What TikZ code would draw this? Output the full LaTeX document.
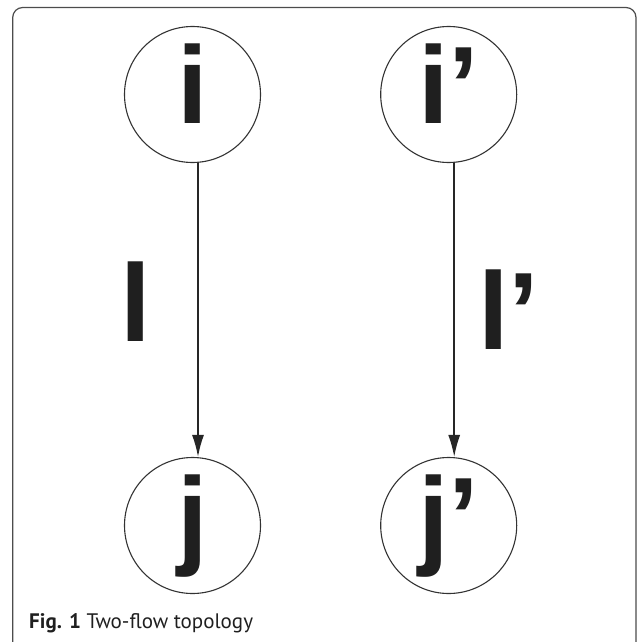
\documentclass[tikz,border=0pt]{standalone}
\usepackage{fontspec}
\setmainfont{Liberation Sans}
\newfontfamily\capfont{PT Sans}
\usetikzlibrary{positioning,arrows.meta}

\begin{document}
\begin{tikzpicture}[x=1pt, y=-1pt,
    host/.style={circle, draw=black!80, line width=1.1pt, minimum size=136pt, inner sep=0pt,
        font=\fontsize{110}{110}\selectfont\bfseries, text=black!88,
        text height=80pt, text depth=22pt},
    flow/.style={draw=black!85, line width=1.6pt, -{Latex[length=22pt,width=12pt]}},
    link/.style={font=\fontsize{110}{110}\selectfont\bfseries, text=black!88, inner sep=0pt}]
    \useasboundingbox (0,0) rectangle (637,642);

    % frame, open at the bottom
    \draw[black!70, line width=1.2pt, rounded corners=10pt]
        (12.7,660) -- (12.7,7.5) -- (636,7.5) -- (636,660);

    % First flow
    \node[host] (i) at (192.5,94.5) {i};
    \node[host] (j) at (192.5,525.5) {j};

    % Second flow
    \node[host] (i2) at (448.7,94.5) {i’};
    \node[host] (j2) at (448.7,525.5) {j’};

    % Links
    \draw[flow] ([xshift=5.5pt]i.south) -- ([xshift=5.5pt]j.north)
        node[link, pos=0.47, left=46pt] (l) {l};
    \draw[flow] ([xshift=5.5pt]i2.south) -- ([xshift=5.5pt]j2.north)
        node[link, pos=0.5, right=23pt] (l2) {l’};

    % Caption
    \node[anchor=base west, inner sep=0pt, font=\capfont\fontsize{21}{21}\selectfont, text=black!88]
        (cap) at (29,628) {\textbf{Fig. 1} Two-flow topology};
\end{tikzpicture}
\end{document}
